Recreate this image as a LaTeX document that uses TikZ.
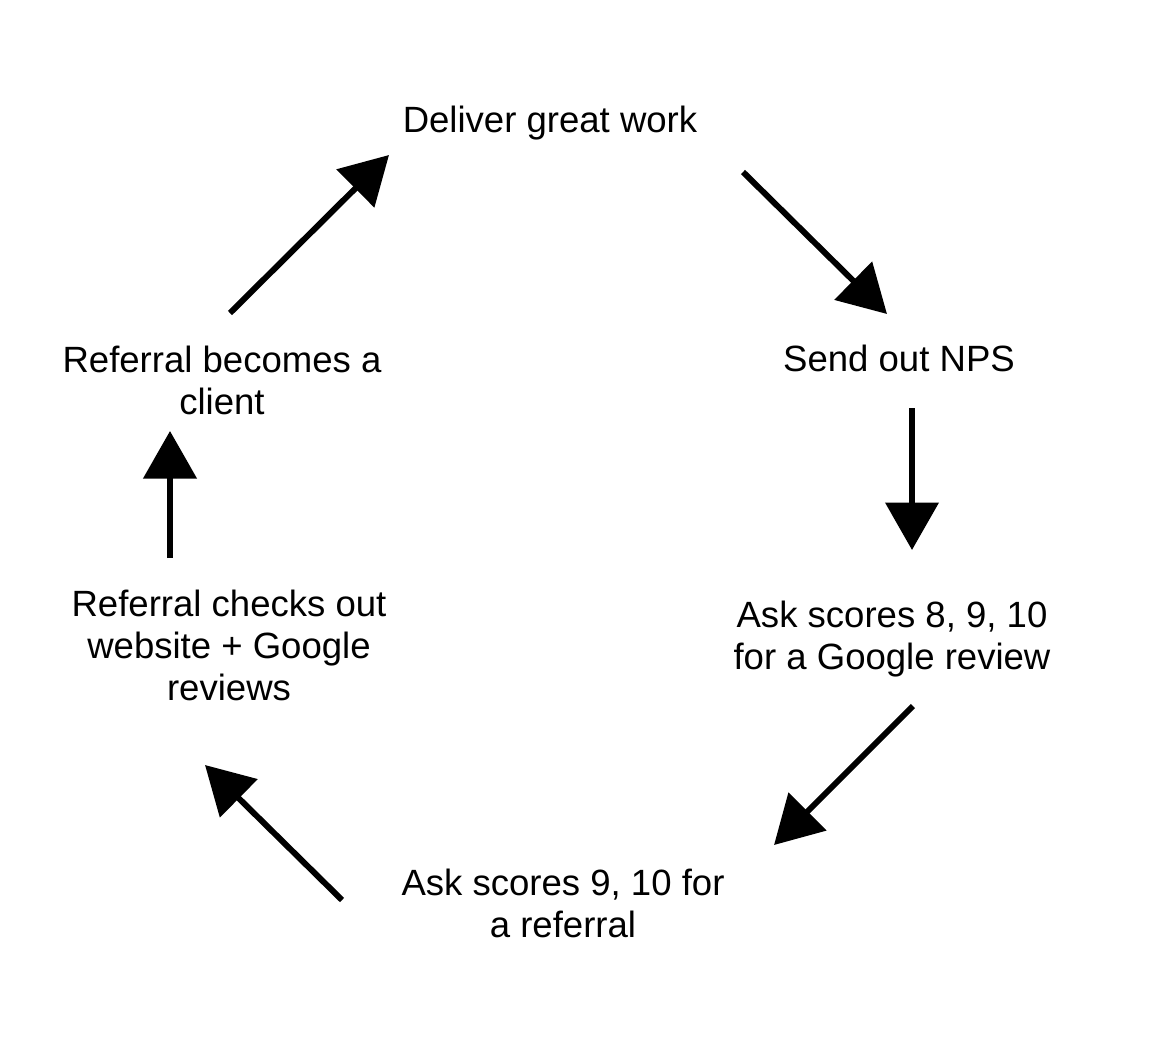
\documentclass[tikz,border=0pt]{standalone}
\usepackage{fontspec}
\setmainfont{Liberation Sans}
\usetikzlibrary{arrows.meta}
\tikzset{
    step label/.style={align=center,font={\fontsize{20.8}{23.9}\selectfont}},
    cycle arrow/.style={line width=3.4pt,-{Triangle[length=0.95cm,width=1.05cm]}},
}
\begin{document}
\begin{tikzpicture}[x=0.02cm,y=-0.02cm]
    \useasboundingbox (0,0) rectangle (1170,1042);

    % steps of the loop
    \node[step label] (deliver) at (550,123) {Deliver great work};
    \node[step label] (nps) at (899,358) {Send out NPS};
    \node[step label] (google) at (892,639) {Ask scores 8, 9, 10\\for a Google review};
    \node[step label] (referral) at (563,903) {Ask scores 9, 10 for\\a referral};
    \node[step label] (checks) at (229,645) {Referral checks out\\website + Google\\reviews};
    \node[step label] (client) at (222,380) {Referral becomes a\\client};

    % arrow ends
    \coordinate (a1) at (743,172); \coordinate (b1) at (887,314);
    \coordinate (a2) at (912,408); \coordinate (b2) at (912,550);
    \coordinate (a3) at (913,706); \coordinate (b3) at (774,845);
    \coordinate (a4) at (342,900); \coordinate (b4) at (205,765);
    \coordinate (a5) at (170,558); \coordinate (b5) at (170,431);
    \coordinate (a6) at (230,313); \coordinate (b6) at (389,155);

    \foreach \i in {1,...,6}
        \draw[cycle arrow] (a\i) -- (b\i);
\end{tikzpicture}
\end{document}
